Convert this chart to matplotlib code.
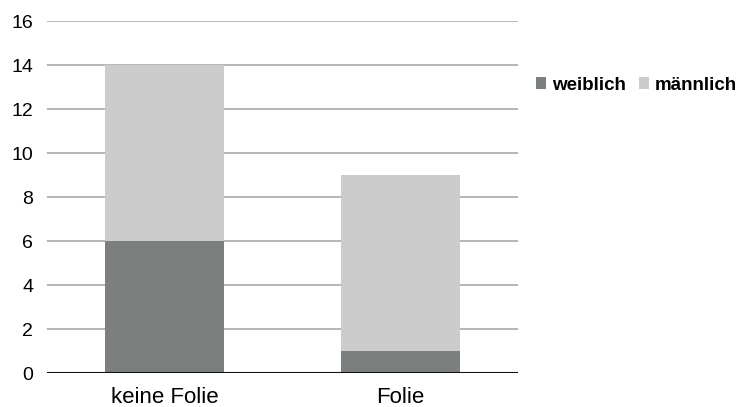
import numpy as np
import matplotlib as mpl

mpl.use('Agg')
import matplotlib.pyplot as plt

plt.rcParams['font.family'] = ['Liberation Sans', 'DejaVu Sans']

# Data
categories = ['keine Folie', 'Folie']
weiblich = [6, 1]
maennlich = [8, 8]
series_names = ['weiblich', 'männlich']
yticks = [0, 2, 4, 6, 8, 10, 12, 14, 16]

fig = plt.figure(figsize=(7.37, 4.07), dpi=100)
ax = fig.add_axes([0.0638, 0.0835, 0.6393, 0.8649])

x = np.arange(len(categories))
b1 = ax.bar(x, weiblich, width=0.505, color='#7b7f7d', label=series_names[0], zorder=3)
b2 = ax.bar(x, maennlich, width=0.505, bottom=weiblich, color='#cccccc',
            label=series_names[1], zorder=3)

ax.set_xlim(-0.5, 1.5)
ax.set_ylim(0, 16)
ax.set_yticks(yticks)
ax.set_xticks(x)
ax.set_xticklabels(categories, fontsize=16)
ax.tick_params(axis='y', labelsize=14, length=0, pad=10)
ax.tick_params(axis='x', length=0, pad=10)

# horizontal grid lines, plain black baseline
ax.yaxis.grid(True, color='#a9a9a9', linewidth=1.2, zorder=0)
ax.axhline(0, color='#111111', linewidth=1.5, zorder=4)
for side in ['top', 'right', 'left', 'bottom']:
    ax.spines[side].set_visible(False)
ax.set_axisbelow(True)

fig.legend(handles=[b1, b2], loc='center left', bbox_to_anchor=(0.727, 0.791),
           ncol=2, frameon=False, prop={'weight': 'bold', 'size': 13.5},
           handlelength=0.55, handleheight=0.55, handletextpad=0.3,
           columnspacing=0.7, borderaxespad=0, borderpad=0)

plt.savefig('out.png', dpi=100)
